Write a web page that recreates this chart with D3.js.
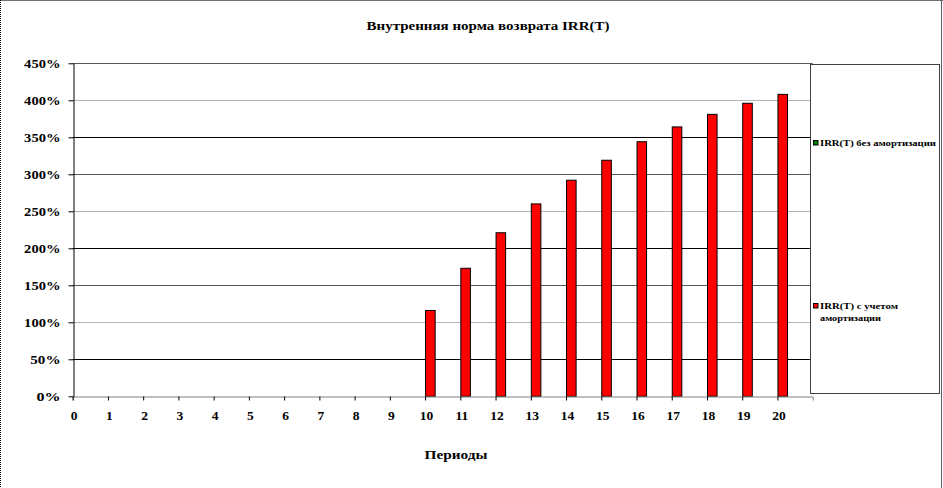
<!DOCTYPE html>
<html>
<head>
<meta charset="utf-8">
<script src="https://cdn.jsdelivr.net/npm/d3@7"></script>
<style>
  html, body { margin: 0; padding: 0; background: #fff; }
  svg { display: block; }
  text { font-family: "Liberation Serif", "Times New Roman", serif; font-weight: bold; fill: #000; }
</style>
</head>
<body>
<svg id="chart" width="943" height="488"></svg>
<script>
const periods = d3.range(0, 21);
const withoutAmort = [null, null, null, null, null, null, null, null, null, null, null, null, null, null, null, null, null, null, null, null, null];
const withAmort = [null, null, null, null, null, null, null, null, null, null, 116, 173, 221, 260, 292, 319, 344, 364, 381, 396, 408];
const yTicks = [0, 50, 100, 150, 200, 250, 300, 350, 400, 450];
const seriesNames = ["IRR(T) без амортизации", "IRR(T) с учетом амортизации"];
const seriesColors = ["#008000", "#FF0000"];
const titleText = "Внутренняя норма возврата IRR(T)";
const xTitle = "Периоды";

const svg = d3.select("#chart");

function stretch(sel, w) {
  sel.attr("textLength", w).attr("lengthAdjust", "spacingAndGlyphs");
}

// outer border
svg.append("line").attr("x1", 0).attr("x2", 943).attr("y1", 0.5).attr("y2", 0.5)
  .attr("stroke", "#707070").attr("stroke-width", 1);
svg.append("line").attr("x1", 0.5).attr("x2", 0.5).attr("y1", 0).attr("y2", 488)
  .attr("stroke", "#000").attr("stroke-width", 1).attr("stroke-dasharray", "1,1");
svg.append("line").attr("x1", 941.5).attr("x2", 941.5).attr("y1", 0).attr("y2", 488)
  .attr("stroke", "#606060").attr("stroke-width", 1);

const x = d3.scaleLinear().domain([0, 21]).range([72.7, 812.7]);
const y = d3.scaleLinear().domain([0, 450]).range([396.3, 63.3]);

// gridlines
const gridColor = v => { const k = (v / 50) % 3; return k === 1 ? "#000" : (k === 2 ? "#b4b4b4" : "#5a5a5a"); };
svg.append("g").selectAll("line").data(yTicks.filter(v => v > 0)).join("line")
  .attr("x1", x(0)).attr("x2", x(21))
  .attr("y1", d => Math.round(y(d)) + 0.5).attr("y2", d => Math.round(y(d)) + 0.5)
  .attr("stroke", d => gridColor(d)).attr("stroke-width", 1);

// bars
const bw = (x(1) - x(0)) * 0.3;
const barData = periods.map((p, i) => ({p, v: withAmort[i]})).filter(d => d.v != null);
svg.append("g").selectAll("rect").data(barData).join("rect")
  .attr("x", d => x(d.p) + 0.5)
  .attr("y", d => y(d.v))
  .attr("width", bw - 1)
  .attr("height", d => y(0) - y(d.v))
  .attr("fill", seriesColors[1]).attr("stroke", "#000").attr("stroke-width", 1);

const barData0 = periods.map((p, i) => ({p, v: withoutAmort[i]})).filter(d => d.v != null);
svg.append("g").selectAll("rect").data(barData0).join("rect")
  .attr("x", d => x(d.p) - bw)
  .attr("y", d => y(d.v))
  .attr("width", bw)
  .attr("height", d => y(0) - y(d.v))
  .attr("fill", seriesColors[0]).attr("stroke", "#000");

// x axis
const xAxis = svg.append("g").attr("transform", `translate(0,${Math.round(y(0)) + 0.5})`)
  .call(d3.axisBottom(x).tickValues(periods).tickFormat(d3.format("d")).tickSize(4).tickSizeOuter(4));
xAxis.select(".domain").attr("stroke", "#808080");
xAxis.selectAll(".tick line").attr("stroke", "#000");
xAxis.selectAll(".tick text").attr("font-size", 13.5).attr("dy", 0).attr("y", 23.5).attr("x", 1)
  .attr("font-family", "Liberation Serif").attr("font-weight", "bold").attr("fill", "#000");

// y axis
const yAxis = svg.append("g").attr("transform", `translate(${Math.round(x(0)) + 0.5},0)`)
  .call(d3.axisLeft(y).tickValues(yTicks).tickFormat(d => d + "%").tickSize(5).tickSizeOuter(0));
yAxis.select(".domain").attr("stroke", "#000");
yAxis.selectAll(".tick line").attr("stroke", "#000");
yAxis.selectAll(".tick text").attr("font-size", 12).attr("x", -13)
  .attr("font-family", "Liberation Serif").attr("font-weight", "bold").attr("fill", "#000")
  .each(function() { const w = this.getComputedTextLength(); stretch(d3.select(this), w * 1.03 + 5.5); });

// title
stretch(svg.append("text").attr("x", 488).attr("y", 30).attr("text-anchor", "middle")
  .attr("font-size", 12).text(titleText), 243);
stretch(svg.append("text").attr("x", 456).attr("y", 459).attr("text-anchor", "middle")
  .attr("font-size", 13).text(xTitle), 63);

// legend
svg.append("rect").attr("x", 810.5).attr("y", 64.5).attr("width", 129).attr("height", 329)
  .attr("fill", "#fff").attr("stroke", "#404040").attr("stroke-width", 1);
const leg = svg.append("g");
leg.append("rect").attr("x", 813.5).attr("y", 140.5).attr("width", 4.5).attr("height", 4.5)
  .attr("fill", seriesColors[0]).attr("stroke", "#000").attr("stroke-width", 1);
stretch(leg.append("text").attr("x", 820).attr("y", 145.5).attr("font-size", 9).text(seriesNames[0]), 116);
leg.append("rect").attr("x", 813.5).attr("y", 303.5).attr("width", 4.5).attr("height", 4.5)
  .attr("fill", seriesColors[1]).attr("stroke", "#000").attr("stroke-width", 1);
const words = seriesNames[1].split(" ");
stretch(leg.append("text").attr("x", 820).attr("y", 308.5).attr("font-size", 9).text(words.slice(0, 3).join(" ")), 78);
stretch(leg.append("text").attr("x", 820).attr("y", 321).attr("font-size", 9).text(words.slice(3).join(" ")), 61);
</script>
</body>
</html>
